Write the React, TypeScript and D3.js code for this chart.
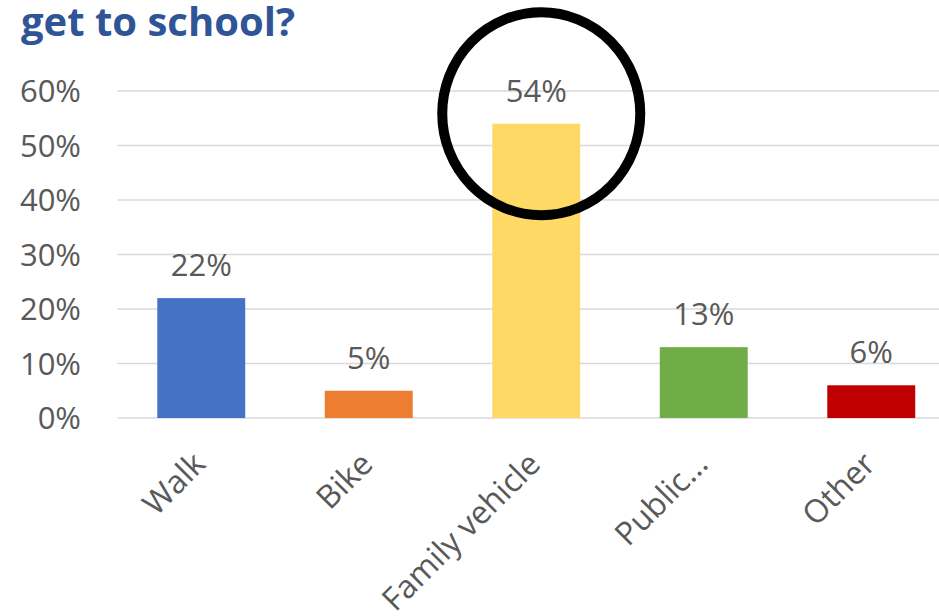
import React from "react";
import * as d3 from "d3";

const categories = ["Walk", "Bike", "Family vehicle", "Public...", "Other"];
const values = [22, 5, 54, 13, 6];
const colors = ["#4472C4", "#ED7D31", "#FFD966", "#70AD47", "#C00000"];
const yTicks = [0, 10, 20, 30, 40, 50, 60];
const titleText = "get to school?";
const highlightIndex = 2;

const W = 939;
const H = 616;
const FONT = "'Open Sans', 'Noto Sans', sans-serif";

export default function App() {
  const x = d3.scaleBand<string>().domain(categories).range([117.5, 955]).paddingInner(0.475).paddingOuter(0.2375);
  const y = d3.scaleLinear().domain([0, 60]).range([418, 91]);
  const bw = x.bandwidth();
  const hx = (x(categories[highlightIndex]) as number) + bw / 2 + 5;
  const hy = y(values[highlightIndex]) - 10;

  return (
    <svg width={W} height={H} style={{ position: "absolute", left: 0, top: 0, background: "#fff" }} fontFamily={FONT}>
      <text x={21} y={36} fontSize={39} fontWeight={700} fill="#2F5597" textLength={274} lengthAdjust="spacingAndGlyphs">{titleText}</text>
      {yTicks.map((t) => (
        <g key={t}>
          <line x1={117.5} x2={W} y1={y(t)} y2={y(t)} stroke="#D9D9D9" strokeWidth={1.5} />
          <text x={81} y={y(t)} dy="0.36em" textAnchor="end" fontSize={31} fill="#595959">{t}%</text>
        </g>
      ))}
      {categories.map((c, i) => {
        const bx = x(c) as number;
        const cx = bx + bw / 2;
        return (
          <g key={c}>
            <rect x={bx} y={y(values[i])} width={bw} height={y(0) - y(values[i])} fill={colors[i]} />
            <text x={cx} y={y(values[i]) - 22} textAnchor="middle" fontSize={31} fill="#595959">{values[i]}%</text>
            <text transform={`translate(${cx - 11},${449}) rotate(-45)`} textAnchor="end" dy="0.75em" fontSize={32} fill="#595959">{c}</text>
          </g>
        );
      })}
      <ellipse cx={hx} cy={hy} rx={99} ry={101.5} fill="none" stroke="#000" strokeWidth={10} />
    </svg>
  );
}
